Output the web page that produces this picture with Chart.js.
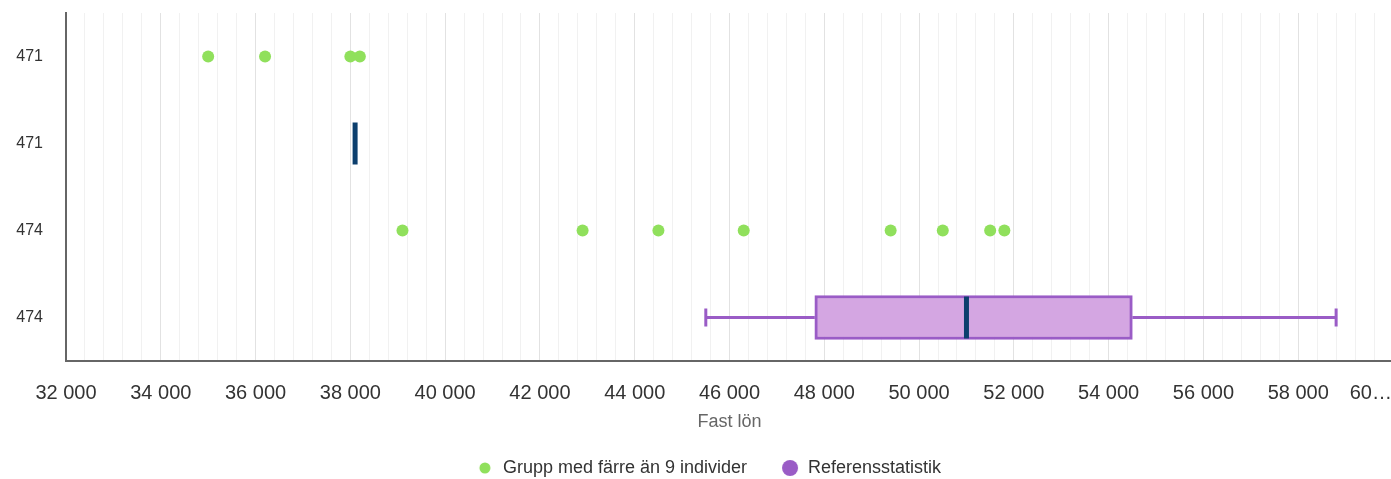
<!DOCTYPE html>
<html>
<head>
<meta charset="utf-8">
<title>Fast lön</title>
<script src="https://cdn.jsdelivr.net/npm/chart.js@4.4.1/dist/chart.umd.min.js"></script>
<style>
    html, body { margin: 0; padding: 0; background: #fff; overflow: hidden; }
    #wrap { width: 1420px; height: 487px; }
</style>
</head>
<body>
<div id="wrap"><canvas id="salary-chart" width="1420" height="487"></canvas></div>
<script>
// Row labels (top to bottom)
const rowLabels = ['471', '471', '474', '474'];

// X axis tick labels, one per 2000 (last one is cut off in the original)
const xTickLabels = ['32 000', '34 000', '36 000', '38 000', '40 000', '42 000', '44 000', '46 000',
    '48 000', '50 000', '52 000', '54 000', '56 000', '58 000', '60…'];

// Groups with fewer than 9 individuals (row index + salary)
const groupRows = [0, 0, 0, 0, 2, 2, 2, 2, 2, 2, 2, 2];
const groupSalaries = [35000, 36200, 38000, 38200, 39100, 42900, 44500, 46300, 49400, 50500, 51500, 51800];

// Reference statistics (box plots)
const boxRows = [1, 3];
const boxMin = [38100, 45500];
const boxQ1 = [38100, 47800];
const boxMedian = [38100, 51000];
const boxQ3 = [38100, 54500];
const boxMax = [38100, 58800];

const GREEN = '#90e05c';
const PURPLE = '#9a5cc6';
const BOX_FILL = '#d4a6e2';
const NAVY = '#0c3f6d';

Chart.defaults.font.family = '"Liberation Sans", Arial, sans-serif';

// Legend markers: small green dot, bigger purple dot
function makeMarker(color, radius) {
    const c = document.createElement('canvas');
    c.width = 42;
    c.height = 20;
    const g = c.getContext('2d');
    g.fillStyle = color;
    g.beginPath();
    g.arc(33, 10, radius, 0, Math.PI * 2);
    g.fill();
    return c;
}
const legendMarkers = [makeMarker(GREEN, 5.5), makeMarker(PURPLE, 8)];

// Last tick label is kept inside the plot, like the original
function tickLabel(v) {
    if (v % 2000 !== 0) return '';
    const i = (v - 32000) / 2000;
    const label = xTickLabels[i];
    return i === xTickLabels.length - 1 ? label + '\u00a0'.repeat(8) : label;
}

// Whiskers and medians drawn on the chart scales
const boxPlugin = {
    id: 'boxWhiskers',
    beforeDatasetsDraw(chart) {
        const { ctx, scales: { x, y } } = chart;
        ctx.save();
        ctx.strokeStyle = PURPLE;
        ctx.lineWidth = 3;
        boxRows.forEach((row, i) => {
            const cy = y.getPixelForValue(row);
            ctx.beginPath();
            ctx.moveTo(x.getPixelForValue(boxMin[i]), cy);
            ctx.lineTo(x.getPixelForValue(boxQ1[i]), cy);
            ctx.moveTo(x.getPixelForValue(boxQ3[i]), cy);
            ctx.lineTo(x.getPixelForValue(boxMax[i]), cy);
            [boxMin[i], boxMax[i]].forEach(v => {
                const px = x.getPixelForValue(v);
                ctx.moveTo(px, cy - 9);
                ctx.lineTo(px, cy + 9);
            });
            ctx.stroke();
        });
        ctx.restore();
    },
    afterDatasetsDraw(chart) {
        const { ctx, scales: { x, y } } = chart;
        ctx.save();
        ctx.strokeStyle = NAVY;
        ctx.lineWidth = 5;
        boxRows.forEach((row, i) => {
            const cy = y.getPixelForValue(row);
            const px = x.getPixelForValue(boxMedian[i]);
            ctx.beginPath();
            ctx.moveTo(px, cy - 21);
            ctx.lineTo(px, cy + 21);
            ctx.stroke();
        });
        ctx.restore();
    }
};

const ctx = document.getElementById('salary-chart').getContext('2d');
new Chart(ctx, {
    type: 'bar',
    data: {
        datasets: [{
            type: 'scatter',
            label: 'Grupp med färre än 9 individer',
            data: groupSalaries.map((v, i) => ({ x: v, y: groupRows[i] })),
            backgroundColor: GREEN,
            borderWidth: 0,
            pointRadius: 6,
            pointHoverRadius: 6
        }, {
            type: 'bar',
            label: 'Referensstatistik',
            data: boxRows.map((row, i) => ({ y: row, x: [boxQ1[i], boxQ3[i]] })),
            backgroundColor: BOX_FILL,
            borderColor: PURPLE,
            borderWidth: 3,
            borderSkipped: false,
            barThickness: 44
        }]
    },
    options: {
        indexAxis: 'y',
        responsive: false,
        animation: false,
        layout: { padding: { top: 13, right: 27, bottom: 0, left: 0 } },
        plugins: {
            tooltip: { enabled: false },
            legend: {
                position: 'bottom',
                labels: {
                    usePointStyle: true,
                    pointStyleWidth: 42,
                    padding: 10,
                    color: '#333',
                    font: { size: 18 },
                    generateLabels(chart) {
                        const items = Chart.defaults.plugins.legend.labels.generateLabels(chart);
                        items.forEach(item => { item.pointStyle = legendMarkers[item.datasetIndex]; });
                        return items;
                    }
                }
            }
        },
        scales: {
            x: {
                type: 'linear',
                min: 32000,
                max: 60000,
                ticks: {
                    stepSize: 400,
                    autoSkip: false,
                    maxRotation: 0,
                    padding: 20,
                    color: '#333',
                    font: { size: 20 },
                    callback: tickLabel
                },
                grid: {
                    drawTicks: false,
                    color: c => (c.tick && c.tick.value % 2000 === 0 ? '#e2e2e2' : '#f1f1f1')
                },
                border: { color: '#666', width: 2 },
                title: {
                    display: true,
                    text: 'Fast lön',
                    color: '#666',
                    font: { size: 18 },
                    padding: { top: 0, bottom: 16 }
                },
                afterFit: s => { s.height = 88; s.paddingRight = 0; }
            },
            y: {
                type: 'linear',
                min: -0.5,
                max: 3.5,
                offset: false,
                reverse: true,
                afterBuildTicks: s => { s.ticks = rowLabels.map((l, i) => ({ value: i })); },
                ticks: {
                    padding: 23,
                    color: '#333',
                    font: { size: 16 },
                    callback: v => rowLabels[v]
                },
                grid: { display: false, drawTicks: false },
                border: { color: '#666', width: 2 },
                afterFit: s => { s.width = 66; s.paddingTop = 0; s.paddingBottom = 0; }
            }
        }
    },
    plugins: [boxPlugin]
});
</script>
</body>
</html>
